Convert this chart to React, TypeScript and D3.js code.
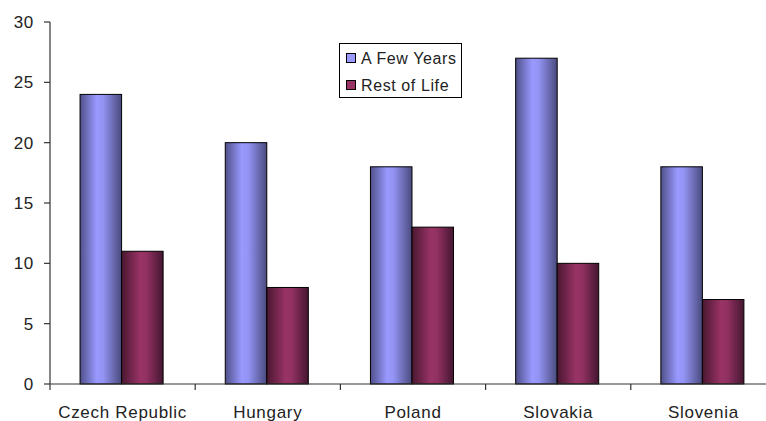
import React from "react";
import * as d3 from "d3";

const categories = ["Czech Republic", "Hungary", "Poland", "Slovakia", "Slovenia"];
const seriesNames = ["A Few Years", "Rest of Life"];
const fewYears = [24, 20, 18, 27, 18];
const restOfLife = [11, 8, 13, 10, 7];
const yTicks = [0, 5, 10, 15, 20, 25, 30];

const W = 766;
const H = 421;
const FONT = "'Liberation Sans', Arial, sans-serif";

const App = () => {
  const x = d3.scaleBand<string>().domain(categories).range([50, 776]).padding(0);
  const bw = x.bandwidth();
  const xs = d3
    .scaleBand<string>()
    .domain(seriesNames)
    .range([bw * 0.207, bw * 0.779])
    .padding(0);
  const y = d3.scaleLinear().domain([0, 30]).range([384, 22]);

  const values = [fewYears, restOfLife];
  const grads = ["gradBlue", "gradMaroon"];
  const solid = ["#9999ff", "#993366"];

  return (
    <div style={{ position: "fixed", left: 0, top: 0, background: "#fff" }}>
      <svg width={W} height={H} style={{ display: "block" }}>
        <defs>
          <linearGradient id="gradBlue" x1="0" x2="1" y1="0" y2="0">
            <stop offset="0" stopColor="#50508a" />
            <stop offset="0.4" stopColor="#9999ff" />
            <stop offset="0.55" stopColor="#9494f5" />
            <stop offset="1" stopColor="#4a4a7e" />
          </linearGradient>
          <linearGradient id="gradMaroon" x1="0" x2="1" y1="0" y2="0">
            <stop offset="0" stopColor="#4a1730" />
            <stop offset="0.45" stopColor="#993366" />
            <stop offset="0.6" stopColor="#923162" />
            <stop offset="1" stopColor="#451630" />
          </linearGradient>
        </defs>

        {/* bars */}
        {categories.map((c, i) =>
          seriesNames.map((s, k) => (
            <rect
              key={c + s}
              x={(x(c) ?? 0) + (xs(s) ?? 0)}
              y={y(values[k][i])}
              width={xs.bandwidth()}
              height={y(0) - y(values[k][i])}
              fill={`url(#${grads[k]})`}
              stroke="#000"
              strokeWidth={1}
            />
          ))
        )}

        {/* y axis */}
        <line x1={50} x2={50} y1={y(30)} y2={y(0)} stroke="#333" strokeWidth={1.2} />
        {yTicks.map((t) => (
          <g key={t}>
            <line x1={44} x2={50} y1={y(t)} y2={y(t)} stroke="#333" strokeWidth={1.2} />
            <text
              x={34}
              y={y(t)}
              dy="0.35em"
              textAnchor="end"
              fontFamily={FONT}
              fontSize={17}
              letterSpacing={0.7}
              fill="#222"
            >
              {t}
            </text>
          </g>
        ))}

        {/* x axis */}
        <line x1={50} x2={W} y1={y(0)} y2={y(0)} stroke="#333" strokeWidth={1.2} />
        {categories.map((c) => (
          <line
            key={"t" + c}
            x1={x(c) ?? 0}
            x2={x(c) ?? 0}
            y1={y(0)}
            y2={y(0) + 6}
            stroke="#333"
            strokeWidth={1.2}
          />
        ))}
        {categories.map((c) => (
          <text
            key={"l" + c}
            x={(x(c) ?? 0) + bw / 2}
            y={418}
            textAnchor="middle"
            fontFamily={FONT}
            fontSize={17}
            letterSpacing={0.7}
            fill="#222"
          >
            {c}
          </text>
        ))}

        {/* legend */}
        <rect x={339.5} y={43.5} width={122} height={54} fill="#fff" stroke="#000" />
        {seriesNames.map((s, k) => (
          <g key={"lg" + s}>
            <rect
              x={346.5}
              y={53.5 + k * 27}
              width={9}
              height={9}
              fill={solid[k]}
              stroke="#000"
            />
            <text
              x={361}
              y={63.5 + k * 27}
              fontFamily={FONT}
              fontSize={16}
              letterSpacing={0.6}
              fill="#222"
            >
              {s}
            </text>
          </g>
        ))}
      </svg>
    </div>
  );
};

export default App;
